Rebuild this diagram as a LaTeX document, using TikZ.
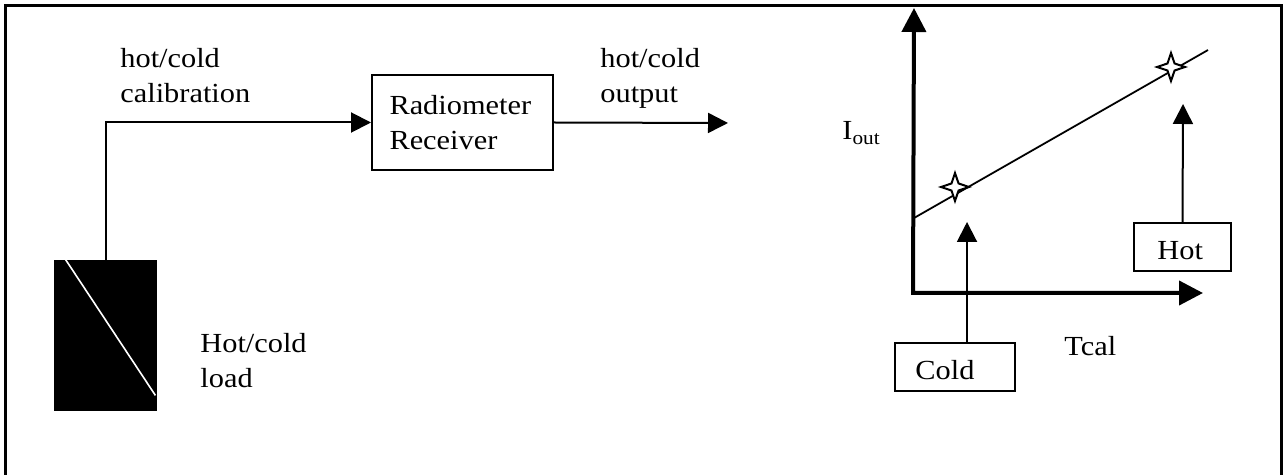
\documentclass[tikz,border=0pt]{standalone}
\usepackage{fontspec}
\setmainfont[FakeStretch=1.1]{Liberation Serif}
\usetikzlibrary{arrows.meta,shapes.geometric,calc}

\begin{document}
\begin{tikzpicture}[x=0.5pt,y=-0.5pt,
    every node/.style={font=\fontsize{13.8}{17.5}\selectfont},
    lbl/.style={anchor=base west,align=left,inner sep=0pt},
    arr/.style={line width=1pt,-{Triangle[length=10pt,width=10pt]}},
    axis/.style={line width=2pt,{Triangle[length=12pt,width=12pt]}-{Triangle[length=12pt,width=12pt]}},
    tag/.style={draw,line width=1pt,minimum height=24pt,inner sep=0pt},
    calpt/.style={star,star points=4,star point ratio=2.8,minimum size=14pt,inner sep=0pt,draw,line width=1pt,fill=white}]
    \clip (0,0) rectangle (1288,475);
    \draw[line width=1.5pt] (5,6) rectangle (1281,500);

    % receiver chain
    \node[draw,line width=1pt,minimum height=47.5pt,text width=73pt,inner xsep=8.75pt,align=left] (recv) at (462.5,122.5) {Radiometer\\Receiver};
    \node[fill=black,minimum width=51.5pt,minimum height=75.5pt,inner sep=0pt] (load) at (105.5,335.5) {};
    \draw[white,line width=0.8pt] ($(load.north west)+(12,0)$) -- ($(load.south east)+(-2,-16)$);
    \node[lbl] (loadlbl) at (200,387) {Hot/cold\\load};
    \node[lbl] (callbl) at (120,103) {hot/cold\\calibration};
    \node[lbl] (outlbl) at (600,103) {hot/cold\\output};
    \coordinate (outend) at (728,123);
    \draw[arr] (load.north) |- (recv.west);
    \draw[arr] (recv.east) -- (outend);

    % calibration plot
    \coordinate (O) at (913,293);
    \coordinate (ytop) at (914,8);
    \coordinate (xend) at (1203,293);
    \draw[axis] (ytop) -- (O) -- (xend);
    \node[lbl] (ilbl) at (842,140) {I\textsubscript{out}};
    \node[lbl] (tlbl) at (1064,355) {Tcal};
    \draw[line width=0.9pt] (914,218) coordinate (fitA) -- (1208,50) coordinate (fitB);
    \node[calpt] (cpt) at (955,187) {};
    \node[calpt] (hpt) at (1171,67) {};

    \node[tag,minimum width=60pt] (cold) at (955,367) {};
    \coordinate (coldtip) at (967,222);
    \draw[arr] (cold.north -| coldtip) -- (coldtip);
    \begin{scope}
      \clip (cold.north west) rectangle (1015,380);
      \node[lbl] at (915,379) {Cold};
    \end{scope}

    \node[tag,minimum width=48.5pt] (hot) at (1182.5,247) {};
    \coordinate (hottip) at (1183,104);
    \draw[arr] (hot.north) -- (hottip);
    \begin{scope}
      \clip (hot.north west) rectangle (1231,260.5);
      \node[lbl] at (1157,260) {Hot};
    \end{scope}
\end{tikzpicture}
\end{document}
